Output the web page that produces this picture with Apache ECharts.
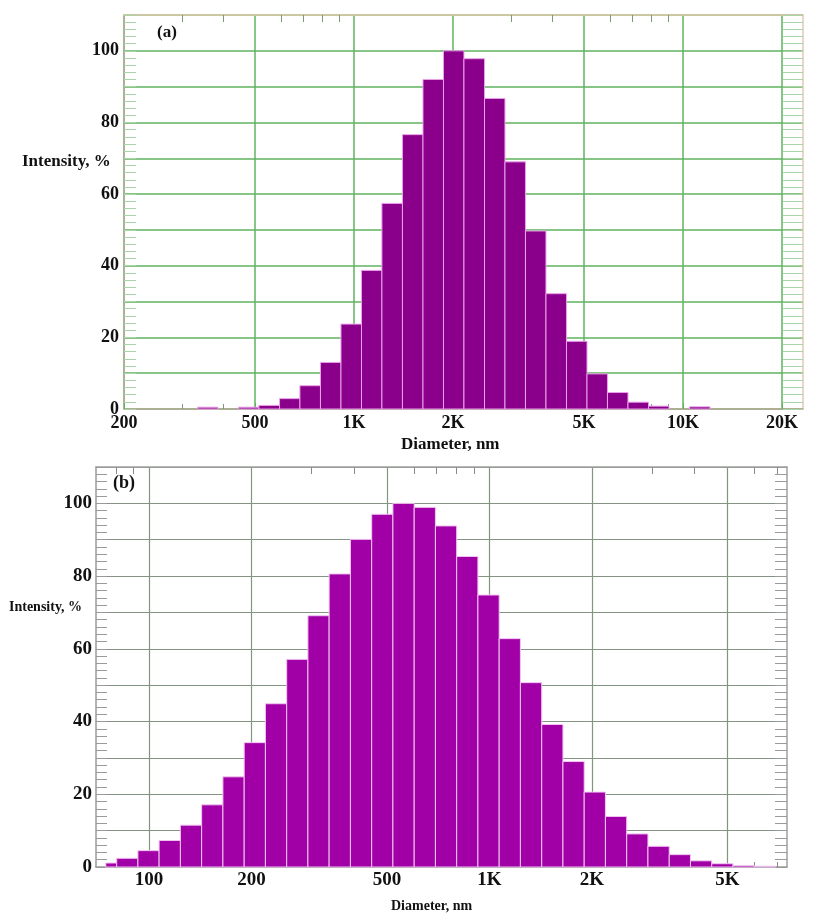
<!DOCTYPE html>
<html>
<head>
<meta charset="utf-8">
<script src="https://cdn.jsdelivr.net/npm/echarts@6/dist/echarts.min.js"></script>
<style>
html,body{margin:0;padding:0;background:#fff;}
#chart{width:816px;height:913px;}
</style>
</head>
<body>
<div id="chart"></div>
<script>
// ---------- Panel (a) ----------
const aBinEdges = [335, 386, 446, 514, 594, 685, 791, 913, 1054, 1216, 1404, 1621, 1871, 2159, 2493, 2877, 3321, 3833, 4425, 5108, 5895, 6805, 7855, 9067, 10466, 12081];
const aIntensity = [0.5, 0, 0.5, 1.0, 2.9, 6.5, 13.0, 23.7, 38.7, 57.4, 76.6, 92.0, 100, 97.8, 86.7, 69.0, 49.7, 32.2, 18.9, 9.8, 4.6, 1.9, 0.8, 0, 0.6];
const aXRange = [200, 23160];
const aXTicks = [200, 500, 1000, 2000, 5000, 10000, 20000];
const aXMinorTicks = [300, 400, 600, 700, 800, 900, 3000, 4000, 6000, 7000, 8000, 9000];

// ---------- Panel (b) ----------
const bBinEdges = [74.7, 80.4, 92.8, 107.1, 123.7, 142.8, 164.9, 190.4, 219.8, 253.8, 293.0, 338.2, 390.6, 451.0, 520.6, 601.1, 694.0, 801.3, 925.0, 1068, 1233, 1424, 1644, 1898, 2191, 2530, 2921, 3373, 3894, 4496, 5190, 5992, 6918];
const bIntensity = [1.1, 2.4, 4.5, 7.3, 11.5, 17.1, 24.8, 34.2, 44.9, 57.1, 69.1, 80.6, 90.1, 97.0, 100, 98.9, 93.8, 85.4, 74.8, 62.8, 50.7, 39.2, 29.0, 20.6, 13.9, 9.1, 5.7, 3.4, 1.7, 0.9, 0.4, 0.2];
const bXRange = [69.9, 7480];
const bXTicks = [100, 200, 500, 1000, 2000, 5000];
const bXMinorTicks = [80, 90, 300, 400, 600, 700, 800, 900, 3000, 4000, 6000, 7000];

const yMax = 110;
const yLabels = [0, 20, 40, 60, 80, 100];

const FONT = '"Liberation Serif", "Times New Roman", serif';
const lg = v => Math.log10(v);

function fmtDiam(v) {
  const d = Math.round(Math.pow(10, v));
  return d >= 1000 ? (d / 1000) + 'K' : String(d);
}
function histData(edges, vals) {
  return vals.map((h, i) => [lg(edges[i]), lg(edges[i + 1]), h]);
}
function makeRender(fill, stroke) {
  return function (params, api) {
    const lo = api.value(0), hi = api.value(1), h = api.value(2);
    if (!(h > 0)) return null;
    const p0 = api.coord([lo, h]);
    const p1 = api.coord([hi, 0]);
    return {
      type: 'rect',
      shape: { x: p0[0], y: p0[1], width: p1[0] - p0[0], height: p1[1] - p0[1] },
      style: { fill: fill, stroke: stroke, lineWidth: 1 }
    };
  };
}

function xAxes(gridIndex, range, ticks, minor, st) {
  const base = { gridIndex, type: 'value', min: lg(range[0]), max: lg(range[1]) };
  return [
    Object.assign({}, base, {
      position: 'bottom',
      axisLine: { show: true, onZero: false, lineStyle: { color: st.frame, width: 1.5 } },
      axisTick: { show: true, inside: true, length: 6, customValues: ticks.map(lg), lineStyle: { color: st.grid } },
      axisLabel: { show: true, customValues: ticks.map(lg), formatter: fmtDiam, margin: st.xMargin,
                   fontFamily: FONT, fontWeight: 'bold', fontSize: st.xFont, color: '#111' },
      splitLine: { show: true, lineStyle: { color: st.grid, width: st.gridWidth } }
    }),
    Object.assign({}, base, {
      position: 'top',
      axisLine: { show: true, onZero: false, lineStyle: { color: st.top, width: 1.5 } },
      axisTick: { show: true, inside: true, length: 7, customValues: minor.map(lg), lineStyle: { color: st.minorTick } },
      axisLabel: { show: false },
      splitLine: { show: false }
    }),
    Object.assign({}, base, {
      position: 'bottom',
      axisLine: { show: false, onZero: false },
      axisTick: { show: true, inside: true, length: 5, customValues: minor.map(lg), lineStyle: { color: st.minorTick } },
      axisLabel: { show: false },
      splitLine: { show: false }
    })
  ];
}
function yAxes(gridIndex, st) {
  return [
    {
      gridIndex, type: 'value', position: 'left', min: 0, max: yMax, interval: 10,
      axisLine: { show: true, onZero: false, lineStyle: { color: st.frame, width: 1.5 } },
      axisTick: { show: true, inside: true, length: st.leftTick, lineStyle: { color: st.yTick } },
      minorTick: { show: true, splitNumber: 5, length: st.leftTick, lineStyle: { color: st.yTick } },
      axisLabel: { formatter: v => (yLabels.indexOf(v) >= 0 ? String(v) : ''), margin: st.yMargin,
                   fontFamily: FONT, fontWeight: 'bold', fontSize: st.yFont, color: '#111' },
      splitLine: { show: true, lineStyle: { color: st.grid, width: st.gridWidth } }
    },
    {
      gridIndex, type: 'value', position: 'right', min: 0, max: yMax, interval: 10,
      axisLine: { show: true, onZero: false, lineStyle: { color: st.top, width: 1.5 } },
      axisTick: { show: true, inside: true, length: st.rightTick, lineStyle: { color: st.yTick } },
      minorTick: { show: true, splitNumber: 5, length: st.rightTick, lineStyle: { color: st.yTick } },
      axisLabel: { show: false },
      splitLine: { show: false }
    }
  ];
}

const stA = { frame: '#b9a898', top: '#e2c8b0', grid: '#5fb35f', gridWidth: 1.5, minorTick: '#7a9a7a', yTick: '#a9d3a9',
              xFont: 18, yFont: 18, xMargin: 5, yMargin: 5, leftTick: 12, rightTick: 20 };
const stB = { frame: '#9a9a9a', top: '#a0a0a0', grid: '#849483', gridWidth: 1.2, minorTick: '#8a8a8a', yTick: '#9a9a9a',
              xFont: 19, yFont: 19, xMargin: 4, yMargin: 4, leftTick: 11, rightTick: 12 };

const chart = echarts.init(document.getElementById('chart'), null, { renderer: 'canvas' });
chart.setOption({
  animation: false,
  backgroundColor: '#fff',
  grid: [
    { left: 124, top: 15, width: 679, height: 394, outerBoundsMode: 'none' },
    { left: 96, top: 467, width: 691, height: 400, outerBoundsMode: 'none' }
  ],
  xAxis: [].concat(xAxes(0, aXRange, aXTicks, aXMinorTicks, stA), xAxes(1, bXRange, bXTicks, bXMinorTicks, stB)),
  yAxis: [].concat(yAxes(0, stA), yAxes(1, stB)),
  series: [
    {
      type: 'custom', xAxisIndex: 0, yAxisIndex: 0,
      renderItem: makeRender('#8b008b', '#e9a2e9'),
      encode: { x: [0, 1], y: 2 },
      data: histData(aBinEdges, aIntensity), z: 3
    },
    {
      type: 'custom', xAxisIndex: 3, yAxisIndex: 2,
      renderItem: makeRender('#a100a7', '#f2c6f2'),
      encode: { x: [0, 1], y: 2 },
      data: histData(bBinEdges, bIntensity), z: 3
    }
  ],
  graphic: [
    { type: 'text', left: 157, top: 24, style: { text: '(a)', font: 'bold 17px ' + FONT, fill: '#111' } },
    { type: 'text', left: 22, top: 153, style: { text: 'Intensity, %', font: 'bold 17px ' + FONT, fill: '#111' } },
    { type: 'text', left: 401, top: 436, style: { text: 'Diameter, nm', font: 'bold 17px ' + FONT, fill: '#111' } },
    { type: 'text', left: 113, top: 474, style: { text: '(b)', font: 'bold 18px ' + FONT, fill: '#111' } },
    { type: 'text', left: 9, top: 600, style: { text: 'Intensity, %', font: 'bold 14px ' + FONT, fill: '#111' } },
    { type: 'text', left: 391, top: 899, style: { text: 'Diameter, nm', font: 'bold 14px ' + FONT, fill: '#111' } }
  ]
});
</script>
</body>
</html>
